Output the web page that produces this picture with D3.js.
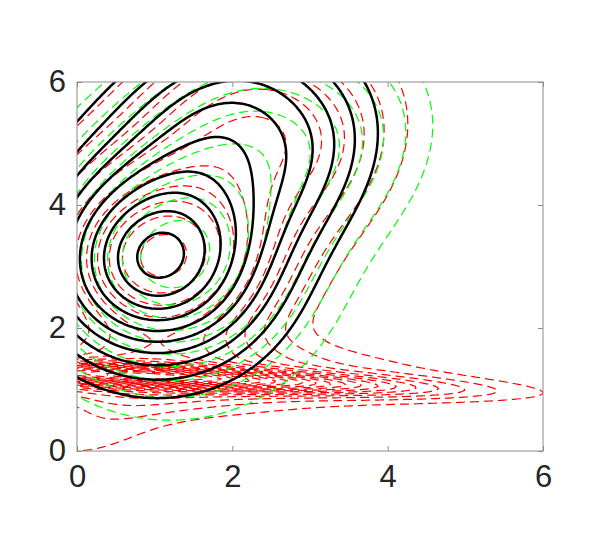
<!DOCTYPE html>
<html>
<head>
<meta charset="utf-8">
<script src="https://cdn.jsdelivr.net/npm/d3@7"></script>
<style>
  body { margin: 0; background: #fff; }
  .tick text { font-family: "Liberation Sans", Arial, sans-serif; }
</style>
</head>
<body>
<script>
// axis ticks
var xTicks = [0, 2, 4, 6];
var yTicks = [0, 2, 4, 6];

// density components (centre, spread, correlation, height)
var blackMx  = [1.03, 1.9, 2.9];
var blackMy  = [3.08, 5.5, 4.5];
var blackSx  = [1.0, 1.0, 0.75];
var blackSy  = [1.15, 1.0, 1.0];
var blackRho = [0.0, 0.2, 0.3];
var blackAmp = [1.0, 0.45, 0.25];
var blackLevels = [0.15, 0.24, 0.33, 0.42, 0.51, 0.6, 0.69, 0.78, 0.87, 0.96];

var greenMx  = [1.2, 2.2, 3.3];
var greenMy  = [3.05, 5.5, 4.6];
var greenSx  = [1.1, 1.1, 0.85];
var greenSy  = [1.25, 1.05, 1.05];
var greenRho = [0.0, 0.2, 0.3];
var greenAmp = [1.0, 0.45, 0.28];
var greenLevels = [0.12, 0.21, 0.3, 0.39, 0.48, 0.57, 0.66, 0.75, 0.84, 0.93];

// red: upper lobe, thin band near y = 1.2, its wider skirt, and a small tail at the origin
var redMx  = [1.08, 2.15, 3.15, 0.8, 0.8, 0.2];
var redMy  = [3.1, 5.5, 4.6, 1.22, 1.3, 0.3];
var redSx  = [1.0, 1.0, 0.75, 2.2, 2.6, 0.7];
var redSy  = [1.1, 1.0, 1.0, 0.17, 0.4, 0.5];
var redRho = [0.0, 0.2, 0.3, -0.7, -0.3, 0.5];
var redAmp = [1.0, 0.45, 0.25, 1.25, 0.35, 0.13];
var redLevels = [0.066, 0.113, 0.16, 0.207, 0.254, 0.301, 0.348, 0.395, 0.442, 0.489,
                 0.536, 0.583, 0.63, 0.677, 0.724, 0.771, 0.818, 0.865, 0.912, 0.959];

var W = 598, H = 549;
var margin = {top: 82, right: 55, bottom: 98, left: 77},
    width = W - margin.left - margin.right,
    height = H - margin.top - margin.bottom;

var x = d3.scaleLinear().domain([0, 6]).range([0, width]);
var y = d3.scaleLinear().domain([0, 6]).range([height, 0]);

var svg = d3.select("body").append("svg")
    .attr("width", W)
    .attr("height", H)
  .append("g")
    .attr("transform", "translate(" + margin.left + "," + margin.top + ")");

svg.append("clipPath").attr("id", "plotclip")
  .append("rect").attr("width", width).attr("height", height);

// grid a bit wider than the axes so contour rings close outside the clip
var g0 = -0.3, g1 = 6.3, step = 0.03;
var n = Math.round((g1 - g0) / step) + 1;

function dens(mx, my, sx, sy, rho, amp, px, py) {
  var s = 0;
  for (var k = 0; k < mx.length; k++) {
    var dx = (px - mx[k]) / sx[k], dy = (py - my[k]) / sy[k];
    var q = (dx * dx - 2 * rho[k] * dx * dy + dy * dy) / (1 - rho[k] * rho[k]);
    s += amp[k] * Math.exp(-0.5 * q);
  }
  return s;
}

function grid(mx, my, sx, sy, rho, amp) {
  var v = new Array(n * n);
  for (var j = 0; j < n; j++)
    for (var i = 0; i < n; i++)
      v[j * n + i] = dens(mx, my, sx, sy, rho, amp, g0 + i * step, g0 + j * step);
  return v;
}

var toPlot = d3.geoTransform({
  point: function(px, py) {
    this.stream.point(x(g0 + (px - 0.5) * step), y(g0 + (py - 0.5) * step));
  }
});
var path = d3.geoPath(toPlot);

var layer = svg.append("g").attr("clip-path", "url(#plotclip)");

function drawSet(values, levels, color, lw, dash) {
  var peak = d3.max(values);
  var th = levels.map(function(f) { return f * peak; });
  var cs = d3.contours().size([n, n]).thresholds(th)(values);
  layer.append("g").selectAll("path")
    .data(cs)
    .enter().append("path")
    .attr("d", path)
    .attr("fill", "none")
    .attr("stroke", color)
    .attr("stroke-width", lw)
    .attr("stroke-dasharray", dash)
    .attr("stroke-linejoin", "round");
}

drawSet(grid(redMx, redMy, redSx, redSy, redRho, redAmp), redLevels, "#ff0000", 1.2, "9,5");
drawSet(grid(greenMx, greenMy, greenSx, greenSy, greenRho, greenAmp), greenLevels, "#00ff00", 1.2, "9,5");
drawSet(grid(blackMx, blackMy, blackSx, blackSy, blackRho, blackAmp), blackLevels, "#000", 2.5, null);

// frame and ticks (inward, all four sides)
svg.append("rect")
  .attr("width", width).attr("height", height)
  .attr("fill", "none").attr("stroke", "#8c8c8c").attr("stroke-width", 1);

var fmt = d3.format("d");
var xAxis = d3.axisBottom(x).tickValues(xTicks).tickFormat(fmt).tickSizeInner(-5).tickSizeOuter(0).tickPadding(14);
var yAxis = d3.axisLeft(y).tickValues(yTicks).tickFormat(fmt).tickSizeInner(-5).tickSizeOuter(0).tickPadding(11);

svg.append("g").attr("transform", "translate(0," + height + ")").call(xAxis);
svg.append("g").call(yAxis);
svg.append("g").call(d3.axisTop(x).tickValues(xTicks).tickSizeInner(-5).tickSizeOuter(0).tickFormat(""));
svg.append("g").attr("transform", "translate(" + width + ",0)")
  .call(d3.axisRight(y).tickValues(yTicks).tickSizeInner(-5).tickSizeOuter(0).tickFormat(""));

svg.selectAll(".domain").remove();
svg.selectAll(".tick line").attr("stroke", "#8c8c8c");
svg.selectAll(".tick text").attr("font-size", 31).attr("fill", "#262626");
</script>
</body>
</html>
